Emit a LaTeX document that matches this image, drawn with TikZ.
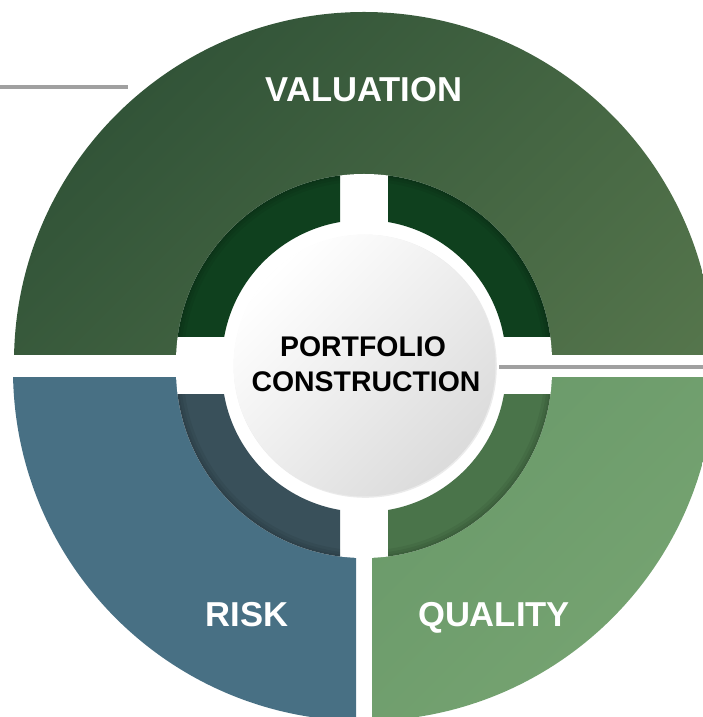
\documentclass[tikz,border=0pt]{standalone}
\usepackage{fontspec}
\setmainfont{Liberation Sans}
\definecolor{valA}{RGB}{50,84,56}
\definecolor{valB}{RGB}{92,124,80}
\definecolor{valIn}{RGB}{15,64,30}
\definecolor{riskOut}{RGB}{72,112,132}
\definecolor{riskIn}{RGB}{57,80,90}
\definecolor{qualA}{RGB}{90,140,96}
\definecolor{qualB}{RGB}{116,162,112}
\definecolor{qualIn}{RGB}{74,116,74}
\definecolor{lineGray}{RGB}{160,160,160}
\tikzset{
  seglabel/.style={font=\fontsize{34.6}{40}\selectfont\bfseries, text=white, inner sep=0pt, anchor=base},
  ctrlabel/.style={font=\fontsize{28.4}{34}\selectfont\bfseries, text=black, inner sep=0pt, anchor=base},
  gline/.style={draw=lineGray, line width=3.2pt},
  softrim/.style={draw=black, draw opacity=0.06},
  ringshadow/.pic={
    \draw[softrim, line width=4pt] (0,0) circle (188);
    \draw[softrim, line width=9pt] (0,0) circle (188);
    \draw[softrim, line width=15pt] (0,0) circle (188);
  }
}
\begin{document}
\begin{tikzpicture}[x=1pt,y=1pt]
\useasboundingbox (0,0) rectangle (703,717);
\coordinate (ct) at (364,355);
\coordinate (cb) at (364,347);
\coordinate (cc) at (364.5,351.5);
% outer segments
\begin{scope}
  \clip (0,362) rectangle (703,717);
  \shade[top color=valA, bottom color=valB, shading angle=45] (ct) circle (350);
\end{scope}
\begin{scope}
  \clip (0,0) rectangle (356,339);
  \fill[riskOut] (cb) circle (351);
\end{scope}
\begin{scope}
  \clip (372,0) rectangle (703,339);
  \shade[top color=qualA, bottom color=qualB, shading angle=45] (cb) circle (351);
\end{scope}
% white interior
\fill[white] (ct) circle (188) (cb) circle (188);
% inner ring pieces
\begin{scope}
  \clip (0,380) rectangle (340,717);
  \fill[valIn, even odd rule] (ct) circle (188) (ct) circle (142);
  \clip (ct) circle (188);
  \pic at (ct) {ringshadow};
\end{scope}
\begin{scope}
  \clip (388,380) rectangle (703,717);
  \fill[valIn, even odd rule] (ct) circle (188) (ct) circle (142);
  \clip (ct) circle (188);
  \pic at (ct) {ringshadow};
\end{scope}
\begin{scope}
  \clip (0,0) rectangle (340,322);
  \fill[riskIn, even odd rule] (cb) circle (188) (cb) circle (142);
  \clip (cb) circle (188);
  \pic at (cb) {ringshadow};
\end{scope}
\begin{scope}
  \clip (388,0) rectangle (703,322);
  \fill[qualIn, even odd rule] (cb) circle (188) (cb) circle (142);
  \clip (cb) circle (188);
  \pic at (cb) {ringshadow};
\end{scope}
% centre disk
\fill[black!8] (cc) ++(0.8,-0.8) circle (131.5);
\shade[top color=white, bottom color=black!14, shading angle=45] (cc) circle (131);
% grey lines
\coordinate (l1a) at (0,630);
\coordinate (l1b) at (128,630);
\coordinate (l2a) at (499,350);
\coordinate (l2b) at (703,350);
\draw[gline] (l1a) -- (l1b);
\draw[gline] (l2a) -- (l2b);
% labels
\node[seglabel] (val) at (364,615) {VALUATION};
\node[seglabel] (risk) at (247,90) {RISK};
\node[seglabel] (qual) at (494,90) {QUALITY};
\node[ctrlabel] (pc1) at (363,360) {PORTFOLIO};
\node[ctrlabel] (pc2) at (366,325) {CONSTRUCTION};
\end{tikzpicture}
\end{document}
